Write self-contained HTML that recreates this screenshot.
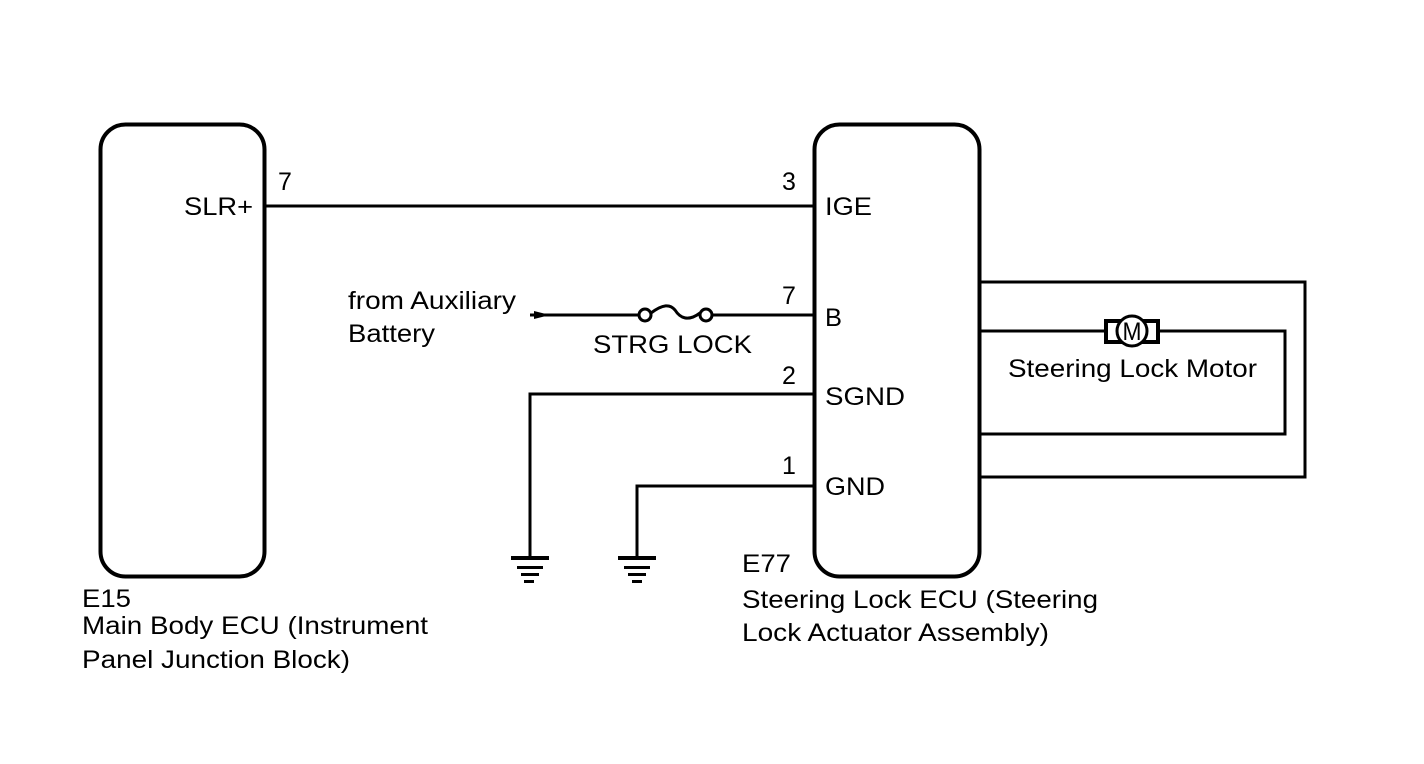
<!DOCTYPE html>
<html><head><meta charset="utf-8"><style>
html,body{margin:0;padding:0;background:#fff;}
svg text{font-family:"Liberation Sans",Arial,sans-serif;font-size:25px;fill:#000;}
</style></head><body>
<svg width="1424" height="759" viewBox="0 0 1424 759" xmlns="http://www.w3.org/2000/svg">
<g fill="none" stroke="#000" stroke-width="3">
<rect x="100.5" y="124.5" width="164" height="452" rx="25" stroke-width="4"/>
<rect x="814.5" y="124.5" width="165" height="452" rx="25" stroke-width="4"/>
<line x1="265" y1="206" x2="814" y2="206"/>
<line x1="530" y1="315" x2="639" y2="315"/>
<line x1="712" y1="315" x2="814" y2="315"/>
<circle cx="645" cy="315" r="6"/>
<circle cx="706" cy="315" r="6"/>
<path d="M651 313 C663 304 670 304 675 310 C680 318 688 322 700 313"/>
<polyline points="530,558 530,394 814,394"/>
<polyline points="637,558 637,486 814,486"/>
<polyline points="980,282 1305,282 1305,477 980,477"/>
<polyline points="980,331 1105,331"/>
<polyline points="1159,331 1285,331 1285,434 980,434"/>
<rect x="1106" y="321" width="52" height="21" stroke-width="4"/>
<circle cx="1132" cy="331" r="15" fill="#fff"/>
</g>
<polygon points="534,311 550,315 534,319" fill="#000"/>
<g fill="#000">
<rect x="511" y="556" width="38" height="4"/>
<rect x="517" y="566" width="26" height="3"/>
<rect x="521" y="573" width="18" height="3"/>
<rect x="524" y="580" width="10" height="3"/>
<rect x="618" y="556" width="38" height="4"/>
<rect x="624" y="566" width="26" height="3"/>
<rect x="628" y="573" width="18" height="3"/>
<rect x="632" y="580" width="10" height="3"/>
</g>
<text x="1132" y="340" text-anchor="middle" textLength="19" lengthAdjust="spacingAndGlyphs">M</text>
<text x="184" y="215" textLength="69" lengthAdjust="spacingAndGlyphs">SLR+</text>
<text x="278" y="190">7</text>
<text x="782" y="190">3</text>
<text x="825" y="215" textLength="47" lengthAdjust="spacingAndGlyphs">IGE</text>
<text x="782" y="304">7</text>
<text x="825" y="326" textLength="17" lengthAdjust="spacingAndGlyphs">B</text>
<text x="782" y="384">2</text>
<text x="825" y="405" textLength="80" lengthAdjust="spacingAndGlyphs">SGND</text>
<text x="782" y="474">1</text>
<text x="825" y="495" textLength="60" lengthAdjust="spacingAndGlyphs">GND</text>
<text x="348" y="309" textLength="168" lengthAdjust="spacingAndGlyphs">from Auxiliary</text>
<text x="348" y="342" textLength="87" lengthAdjust="spacingAndGlyphs">Battery</text>
<text x="593" y="353" textLength="159" lengthAdjust="spacingAndGlyphs">STRG LOCK</text>
<text x="1008" y="377" textLength="249" lengthAdjust="spacingAndGlyphs">Steering Lock Motor</text>
<text x="82" y="607" textLength="49" lengthAdjust="spacingAndGlyphs">E15</text>
<text x="82" y="634" textLength="346" lengthAdjust="spacingAndGlyphs">Main Body ECU (Instrument</text>
<text x="82" y="668" textLength="268" lengthAdjust="spacingAndGlyphs">Panel Junction Block)</text>
<text x="742" y="572" textLength="49" lengthAdjust="spacingAndGlyphs">E77</text>
<text x="742" y="608" textLength="356" lengthAdjust="spacingAndGlyphs">Steering Lock ECU (Steering</text>
<text x="742" y="641" textLength="307" lengthAdjust="spacingAndGlyphs">Lock Actuator Assembly)</text>
</svg>
</body></html>
